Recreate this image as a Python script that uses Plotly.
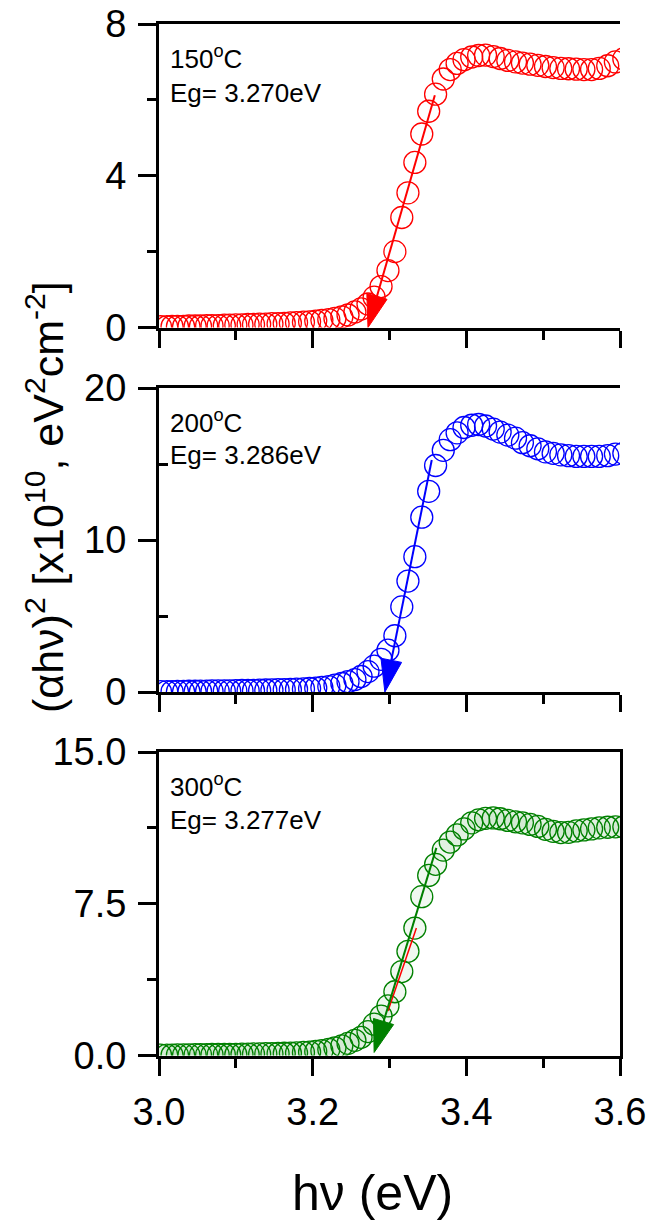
import plotly.graph_objects as go

# photon energy grid (eV)
hv = [3.002, 3.010, 3.017, 3.024, 3.032, 3.039, 3.047, 3.054, 3.062, 3.069,
      3.077, 3.085, 3.092, 3.100, 3.108, 3.116, 3.123, 3.131, 3.139, 3.147,
      3.155, 3.163, 3.171, 3.179, 3.188, 3.196, 3.204, 3.212, 3.221, 3.229,
      3.238, 3.246, 3.255, 3.263, 3.272, 3.280, 3.289, 3.298, 3.307, 3.316,
      3.324, 3.333, 3.342, 3.351, 3.360, 3.370, 3.379, 3.388, 3.397, 3.407,
      3.416, 3.425, 3.435, 3.444, 3.454, 3.464, 3.473, 3.483, 3.493, 3.503,
      3.513, 3.523, 3.533, 3.543, 3.553, 3.563, 3.573, 3.584, 3.594, 3.605]

# (alpha h nu)^2 [x1e10 eV^2 cm^-2]
a150 = [0.02, 0.02, 0.03, 0.03, 0.03, 0.04, 0.04, 0.04, 0.05, 0.05,
        0.05, 0.06, 0.06, 0.07, 0.07, 0.08, 0.08, 0.09, 0.09, 0.10,
        0.10, 0.11, 0.12, 0.13, 0.14, 0.15, 0.17, 0.19, 0.21, 0.24,
        0.28, 0.33, 0.41, 0.49, 0.62, 0.80, 1.08, 1.50, 2.00, 2.90,
        3.55, 4.35, 5.10, 5.70, 6.15, 6.55, 6.80, 6.96, 7.06, 7.13,
        7.17, 7.18, 7.14, 7.09, 7.04, 7.00, 6.97, 6.94, 6.91, 6.88,
        6.85, 6.83, 6.82, 6.81, 6.80, 6.80, 6.83, 6.90, 7.00, 7.08]

a200 = [0.02, 0.03, 0.03, 0.04, 0.04, 0.05, 0.05, 0.06, 0.06, 0.07,
        0.07, 0.08, 0.08, 0.09, 0.10, 0.10, 0.11, 0.12, 0.13, 0.14,
        0.15, 0.16, 0.17, 0.19, 0.21, 0.23, 0.26, 0.30, 0.36, 0.45,
        0.56, 0.68, 0.82, 1.02, 1.34, 1.70, 2.15, 2.75, 3.70, 5.60,
        7.30, 8.90, 11.5, 13.2, 14.9, 15.9, 16.6, 17.05, 17.4, 17.55,
        17.6, 17.5, 17.3, 17.1, 16.9, 16.7, 16.4, 16.2, 16.0, 15.8,
        15.7, 15.6, 15.55, 15.5, 15.5, 15.5, 15.5, 15.55, 15.65, 15.7]

a300 = [0.02, 0.02, 0.02, 0.03, 0.03, 0.03, 0.04, 0.04, 0.04, 0.05,
        0.05, 0.05, 0.06, 0.06, 0.07, 0.07, 0.08, 0.08, 0.09, 0.09,
        0.10, 0.11, 0.12, 0.13, 0.15, 0.17, 0.20, 0.24, 0.30, 0.38,
        0.48, 0.60, 0.75, 0.90, 1.18, 1.55, 1.95, 2.45, 3.15, 4.15,
        5.15, 6.30, 7.85, 8.90, 9.45, 10.15, 10.55, 10.9, 11.2, 11.5,
        11.65, 11.72, 11.74, 11.70, 11.62, 11.55, 11.50, 11.42, 11.32, 11.18,
        11.08, 11.02, 11.03, 11.10, 11.15, 11.20, 11.25, 11.28, 11.30, 11.30]

temps = ["150", "200", "300"]
eg_labels = ["3.270", "3.286", "3.277"]
series = [a150, a200, a300]
colors = ["#ff0000", "#0000ff", "#008000"]
fills = ["rgba(255,255,255,0)", "rgba(255,255,255,0)", "rgba(0,128,0,0.06)"]

# tangent (extrapolation) lines: start and tip
arrow_x0 = [3.359, 3.355, 3.361]
arrow_y0 = [6.12, 15.26, 10.26]
arrow_x1 = [3.272, 3.294, 3.280]
arrow_y1 = [0.0, 0.0, 0.15]
# small red fit segment in 300 C panel
fit_x = [3.335, 3.298]
fit_y = [6.3, 2.2]

y_ranges = [[0, 8], [0, 20], [0, 15]]
y_ticks = [[0, 4, 8], [0, 10, 20], [0, 7.5, 15]]
y_ticktext = [["0", "4", "8"], ["0", "10", "20"], ["0.0", "7.5", "15.0"]]
y_minor = [[2, 6], [5, 15], [3.75, 11.25]]
y_minor_dir = ["outside", "inside", "outside"]
x_ticks = [3.0, 3.2, 3.4, 3.6]
x_ticktext = ["3.0", "3.2", "3.4", "3.6"]
x_minor = [3.1, 3.3, 3.5]

W, H = 658, 1220
FONT = "Arial, Liberation Sans, sans-serif"

def px_x(p):
    return p / W

def px_y(p):
    return 1 - p / H

x_dom = [px_x(159), px_x(620)]
y_doms = [[px_y(327.5), px_y(24)], [px_y(692), px_y(388)], [px_y(1055.5), px_y(752)]]

fig = go.Figure()
for i in range(3):
    xa = "x" if i == 0 else f"x{i+1}"
    ya = "y" if i == 0 else f"y{i+1}"
    fig.add_trace(go.Scatter(
        x=hv, y=series[i], mode="markers", xaxis=xa, yaxis=ya,
        marker=dict(symbol="circle", size=22, color=fills[i],
                    line=dict(color=colors[i], width=1.3)),
        showlegend=False, hoverinfo="skip"))
    if i == 2:
        fig.add_trace(go.Scatter(
            x=fit_x, y=fit_y, mode="lines", xaxis=xa, yaxis=ya,
            line=dict(color="#ff0000", width=1.5), showlegend=False))
    fig.add_trace(go.Scatter(
        x=[arrow_x0[i], arrow_x1[i]], y=[arrow_y0[i], arrow_y1[i]],
        mode="lines+markers", xaxis=xa, yaxis=ya,
        line=dict(color=colors[i], width=2),
        marker=dict(symbol="arrow", size=[0, 34], color=colors[i],
                    opacity=1, angleref="previous",
                    line=dict(width=1, color=colors[i])),
        showlegend=False, hoverinfo="skip"))

layout = dict(
    width=W, height=H, margin=dict(l=0, r=0, t=0, b=0, autoexpand=False),
    paper_bgcolor="white", plot_bgcolor="white",
    font=dict(family=FONT, color="black"),
    showlegend=False,
)
for i in range(3):
    xk = "xaxis" if i == 0 else f"xaxis{i+1}"
    yk = "yaxis" if i == 0 else f"yaxis{i+1}"
    ya = "y" if i == 0 else f"y{i+1}"
    xa = "x" if i == 0 else f"x{i+1}"
    layout[xk] = dict(
        domain=x_dom, anchor=ya, range=[3.0, 3.6], automargin=False,
        showline=True, linewidth=3, linecolor="black", mirror=True,
        ticks="outside", ticklen=17, tickwidth=3, tickcolor="black",
        tickvals=x_ticks, ticktext=x_ticktext,
        showticklabels=(i == 2), tickfont=dict(size=38, family=FONT),
        ticklabelstandoff=4,
        minor=dict(tickvals=x_minor, ticks="outside", ticklen=9,
                   tickwidth=3, tickcolor="black", showgrid=False),
        showgrid=False, zeroline=False,
    )
    layout[yk] = dict(
        domain=y_doms[i], anchor=xa, range=y_ranges[i], automargin=False,
        showline=True, linewidth=3, linecolor="black", mirror=(i == 2),
        ticks="outside", ticklen=18, tickwidth=3, tickcolor="black",
        tickvals=y_ticks[i], ticktext=y_ticktext[i],
        tickfont=dict(size=38, family=FONT), ticklabelstandoff=4,
        minor=dict(tickvals=y_minor[i], ticks=y_minor_dir[i], ticklen=9,
                   tickwidth=3, tickcolor="black", showgrid=False),
        showgrid=False, zeroline=False,
    )

annotations = []
label_y = [(58, 93), (422, 455), (785, 820)]
for i in range(3):
    annotations.append(dict(
        x=px_x(168), y=px_y(label_y[i][0]), xref="paper", yref="paper",
        xanchor="left", yanchor="middle", showarrow=False,
        text=f"{temps[i]}<sup>o</sup>C", font=dict(size=26, family=FONT)))
    annotations.append(dict(
        x=px_x(168), y=px_y(label_y[i][1]), xref="paper", yref="paper",
        xanchor="left", yanchor="middle", showarrow=False,
        text=f"Eg= {eg_labels[i]}eV", font=dict(size=26, family=FONT)))

annotations.append(dict(
    x=px_x(45), y=px_y(497), xref="paper", yref="paper",
    xanchor="center", yanchor="middle", showarrow=False, textangle=-90,
    text="(αhν)<sup>2</sup> [x10<sup>10</sup>, eV<sup>2</sup>cm<sup>-2</sup>]",
    font=dict(size=43, family=FONT)))
annotations.append(dict(
    x=px_x(373), y=px_y(1193), xref="paper", yref="paper",
    xanchor="center", yanchor="middle", showarrow=False,
    text="hν (eV)", font=dict(size=50, family=FONT)))

layout["annotations"] = annotations
fig.update_layout(**layout)
fig.write_html("out.html")
